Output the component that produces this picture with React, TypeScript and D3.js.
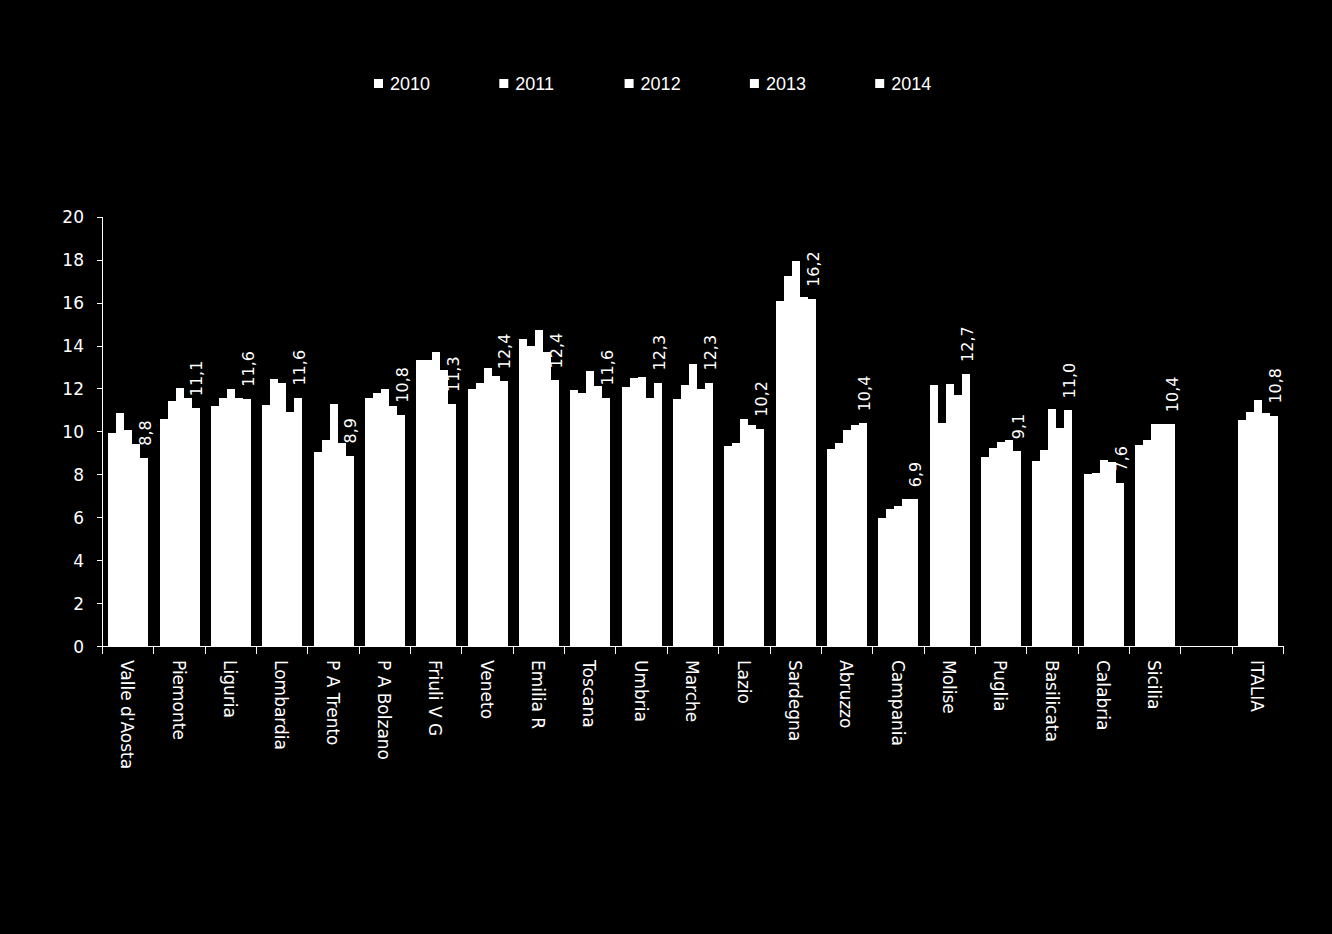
import React from 'react';
import * as d3 from 'd3';

const categories = ["Valle d'Aosta", "Piemonte", "Liguria", "Lombardia", "P A Trento", "P A Bolzano", "Friuli V G", "Veneto", "Emilia R", "Toscana", "Umbria", "Marche", "Lazio", "Sardegna", "Abruzzo", "Campania", "Molise", "Puglia", "Basilicata", "Calabria", "Sicilia", "", "ITALIA"];
const years = ["2010", "2011", "2012", "2013", "2014"];
const v2010 = [9.95, 10.6, 11.2, 11.25, 9.05, 11.6, 13.35, 12.0, 14.33, 11.95, 12.1, 11.55, 9.35, 16.1, 9.2, 6.0, 12.2, 8.85, 8.65, 8.05, 9.4, null, 10.55];
const v2011 = [10.9, 11.45, 11.6, 12.45, 9.6, 11.8, 13.35, 12.3, 14.0, 11.8, 12.5, 12.2, 9.5, 17.25, 9.5, 6.4, 10.4, 9.25, 9.15, 8.1, 9.6, null, 10.95];
const v2012 = [10.1, 12.05, 12.0, 12.3, 11.3, 12.0, 13.7, 13.0, 14.75, 12.85, 12.55, 13.15, 10.6, 17.95, 10.1, 6.55, 12.25, 9.55, 11.05, 8.7, 10.35, null, 11.5];
const v2013 = [9.45, 11.6, 11.6, 10.95, 9.5, 11.2, 12.9, 12.6, 13.7, 12.15, 11.6, 12.0, 10.3, 16.3, 10.3, 6.85, 11.7, 9.6, 10.2, 8.6, 10.35, null, 10.9];
const v2014 = [8.8, 11.1, 11.55, 11.6, 8.9, 10.8, 11.3, 12.36, 12.4, 11.6, 12.3, 12.3, 10.15, 16.2, 10.4, 6.86, 12.7, 9.1, 11.0, 7.6, 10.36, null, 10.76];
const seriesValues = [v2010, v2011, v2012, v2013, v2014];
const yTicks = [0, 2, 4, 6, 8, 10, 12, 14, 16, 18, 20];

const W = 1332;
const H = 934;
const left = 102.5;
const right = 1283.5;
const top = 217.3;
const bottom = 646.5;
const font = "'DejaVu Sans', sans-serif";

export default function App() {
  const x = d3.scaleBand<string>().domain(categories.map((c, i) => i + '|' + c)).range([left, right]).paddingInner(0).paddingOuter(0);
  const xs = d3.scaleBand<string>().domain(years).range([0, x.bandwidth()]).paddingInner(0).paddingOuter(0.71);
  const y = d3.scaleLinear().domain([0, 20]).range([bottom, top]);
  const fmt = (v: number) => d3.format('.1f')(v).replace('.', ',');
  const keys = x.domain();
  const boundaries = keys.map((k) => x(k) as number).concat([right]);

  return (
    <svg width={W} height={H} style={{ position: 'absolute', left: 0, top: 0, display: 'block' }}>
      <rect x={0} y={0} width={W} height={H} fill="#000" />
      {/* legend */}
      {years.map((yr, i) => (
        <g key={yr} transform={`translate(${374 + i * 125.3},0)`}>
          <rect x={0} y={79} width={9} height={9} fill="#fff" />
          <text x={16} y={90} fill="#fff" fontFamily="'Liberation Sans', sans-serif" fontSize={18}>{yr}</text>
        </g>
      ))}
      {/* bars */}
      <g shapeRendering="crispEdges">
        {seriesValues.map((vals, s) => (
          <g key={years[s]}>
            {vals.map((v, i) => {
              if (v == null) return null;
              const x0 = Math.round((x(keys[i]) as number) + (xs(years[s]) as number));
              const x1 = Math.round((x(keys[i]) as number) + (xs(years[s]) as number) + xs.bandwidth());
              return (
                <rect key={i} x={x0} y={y(v)} width={x1 - x0} height={y(0) - y(v)} fill="#fff" />
              );
            })}
          </g>
        ))}
      </g>
      {/* data labels for 2014 */}
      {v2014.map((v, i) => {
        if (v == null) return null;
        const cx = (x(keys[i]) as number) + (xs('2014') as number) + xs.bandwidth() / 2;
        const ty = y(v) - 12;
        return (
          <text key={i} transform={`translate(${cx},${ty}) rotate(-90)`} dy="0.43em" fill="#fff" fontFamily={font} fontSize={16} textAnchor="start">
            {fmt(v)}
          </text>
        );
      })}
      {/* y axis */}
      <g shapeRendering="crispEdges">
        <line x1={left} x2={left} y1={top} y2={bottom} stroke="#fff" strokeWidth={1} />
        {yTicks.map((t) => (
          <line key={t} x1={left - 6} x2={left} y1={y(t)} y2={y(t)} stroke="#fff" strokeWidth={1} />
        ))}
        <line x1={left} x2={right} y1={bottom} y2={bottom} stroke="#fff" strokeWidth={1} />
        {boundaries.map((b, i) => (
          <line key={i} x1={b} x2={b} y1={bottom} y2={bottom + 7} stroke="#fff" strokeWidth={1} />
        ))}
      </g>
      {yTicks.map((t) => (
        <text key={t} x={84} y={y(t)} dy="0.36em" textAnchor="end" fill="#fff" fontFamily={font} fontSize={17}>{t}</text>
      ))}
      {categories.map((c, i) => {
        if (!c) return null;
        const cx = (x(keys[i]) as number) + x.bandwidth() / 2;
        return (
          <text key={i} transform={`translate(${cx},${660}) rotate(90)`} dy="0.4em" fill="#fff" fontFamily={font} fontSize={17} textAnchor="start">
            {c}
          </text>
        );
      })}
    </svg>
  );
}
